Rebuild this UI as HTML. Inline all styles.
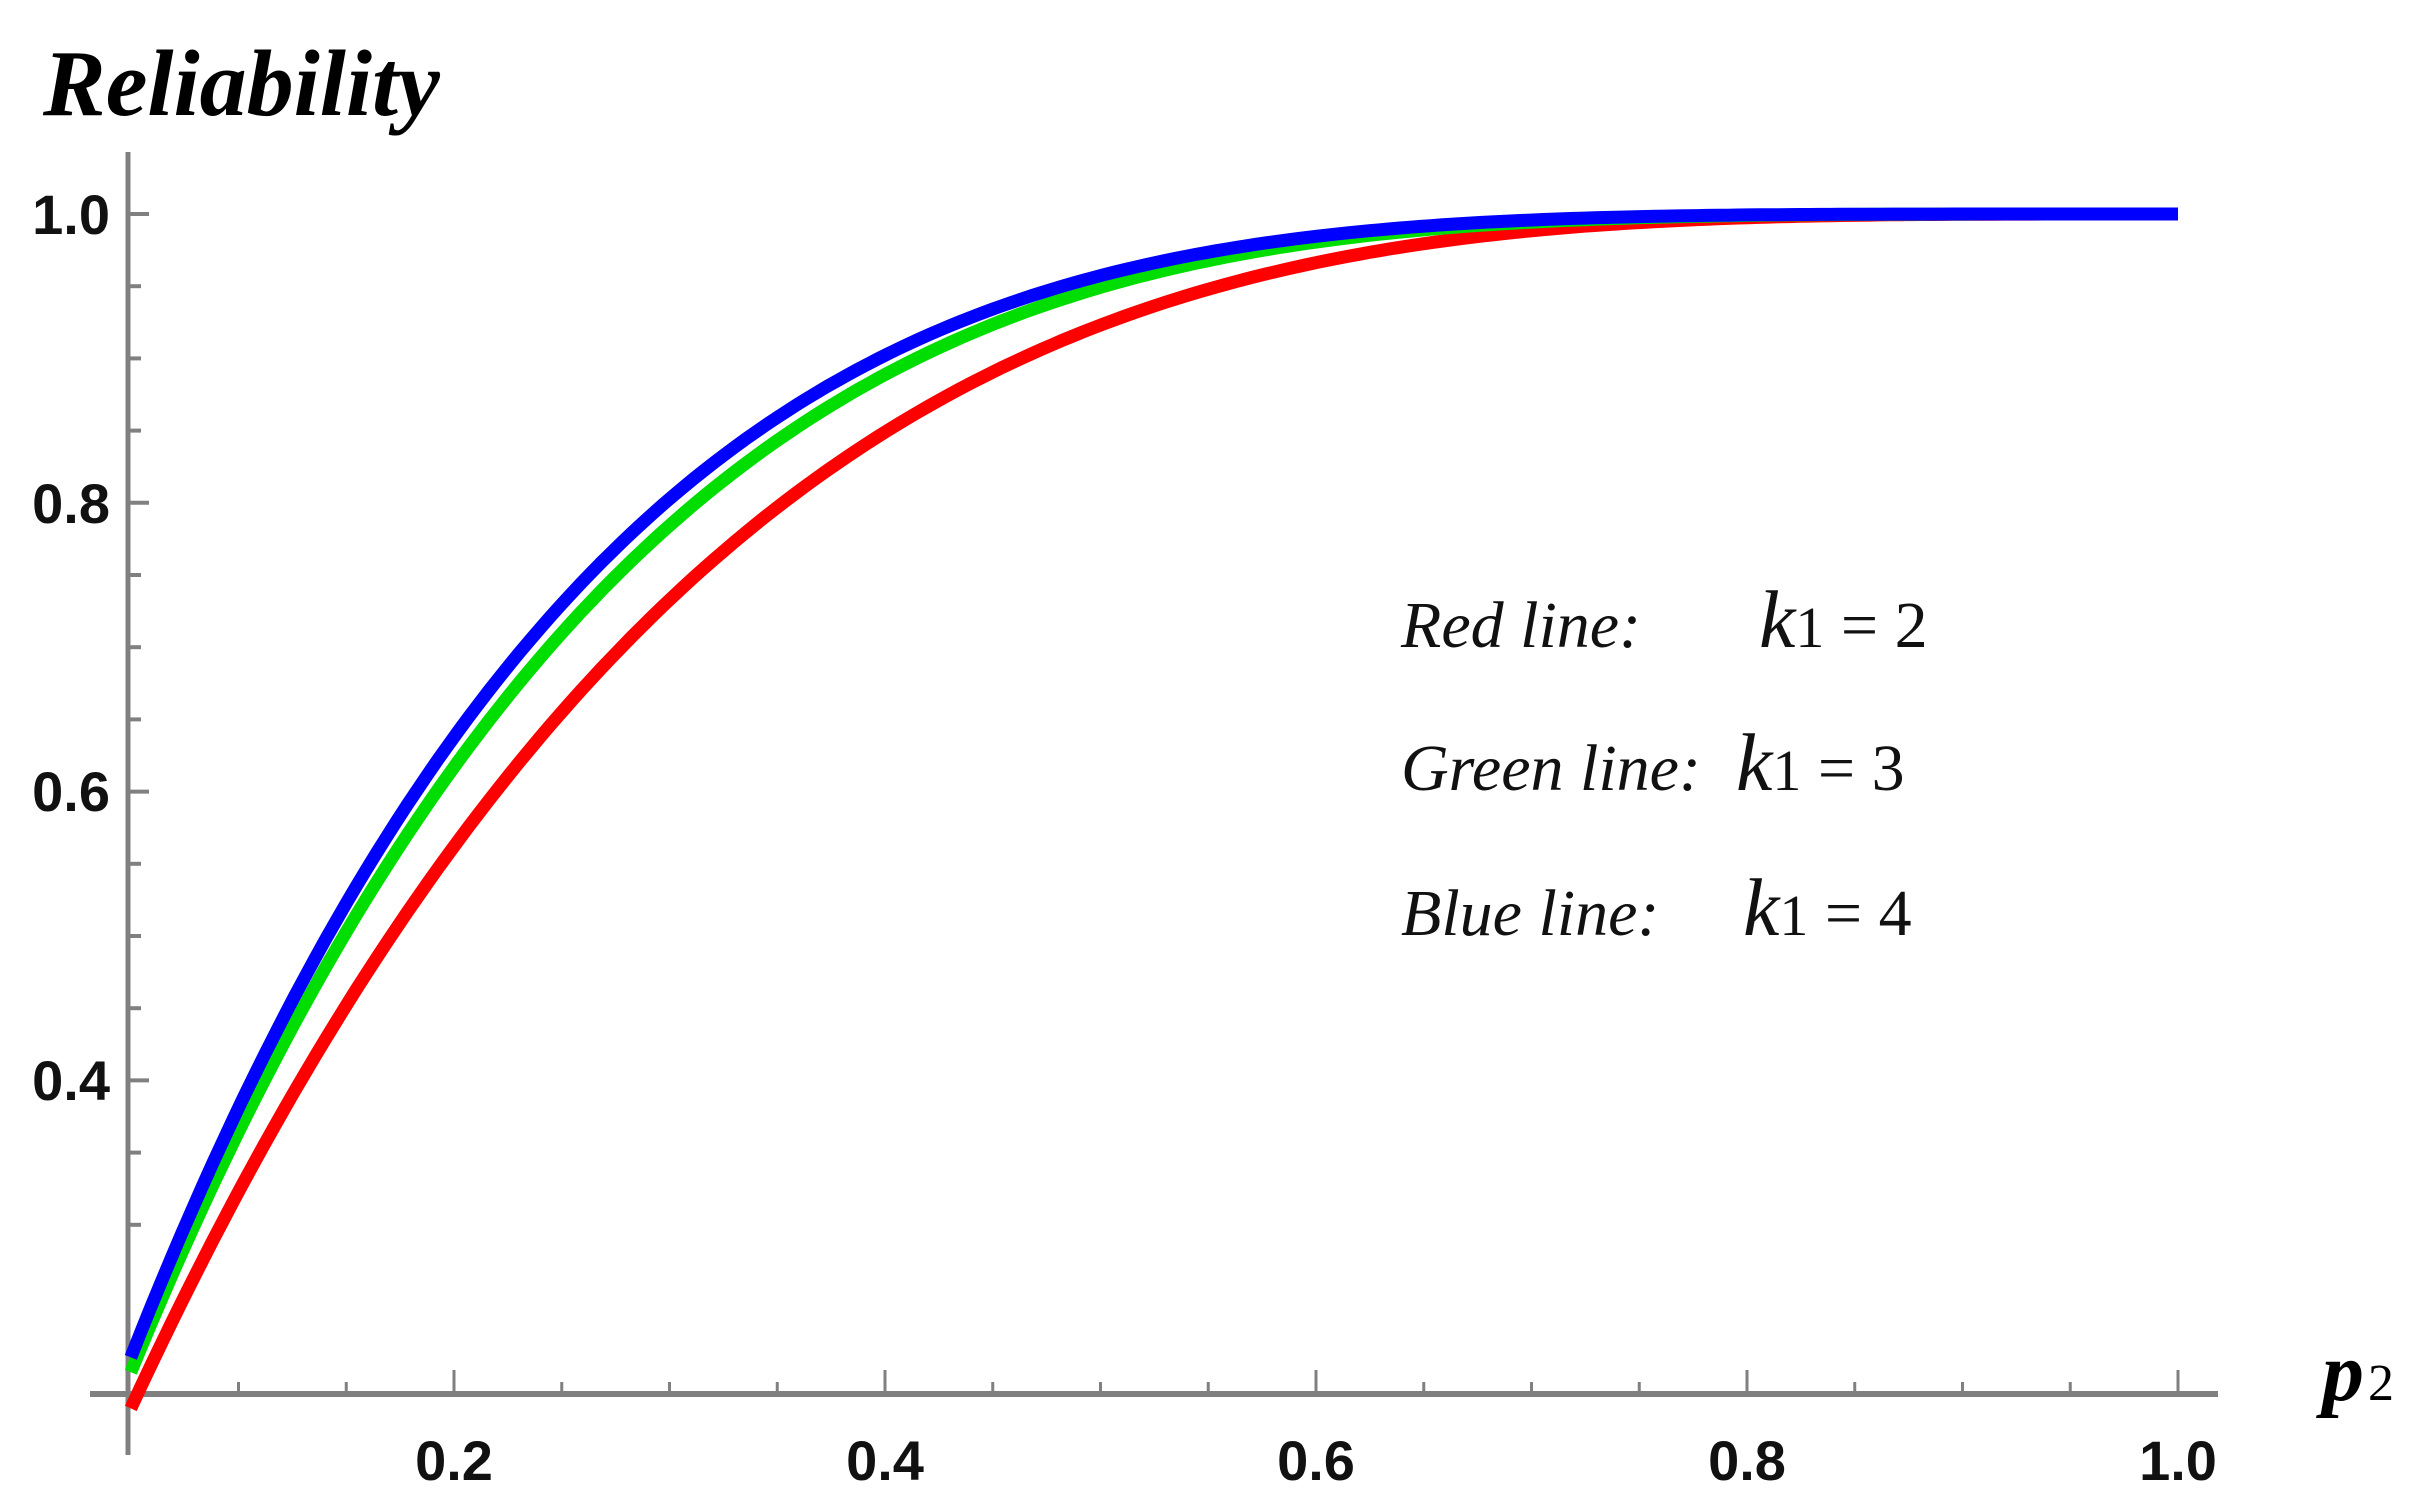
<!DOCTYPE html>
<html><head><meta charset="utf-8"><style>
html,body{margin:0;padding:0;background:#fff;}
svg{display:block;}
</style></head><body>
<svg id="s" width="2435" height="1510" viewBox="0 0 2435 1510" xmlns="http://www.w3.org/2000/svg">
<rect width="2435" height="1510" fill="#fff"/>
<text x="43" y="115" font-family="Liberation Serif, serif" font-style="italic" font-weight="bold" font-size="94">Reliability</text>
<g id="axes" stroke="#808080" fill="none"></g>
<g font-family="Liberation Sans, sans-serif" font-weight="bold" font-size="56" fill="#111">
<text x="110" y="234" text-anchor="end">1.0</text>
<text x="110" y="523" text-anchor="end">0.8</text>
<text x="110" y="811" text-anchor="end">0.6</text>
<text x="110" y="1100" text-anchor="end">0.4</text>
<text x="454" y="1480" text-anchor="middle">0.2</text>
<text x="885" y="1480" text-anchor="middle">0.4</text>
<text x="1316" y="1480" text-anchor="middle">0.6</text>
<text x="1747" y="1480" text-anchor="middle">0.8</text>
<text x="2178" y="1480" text-anchor="middle">1.0</text>
</g>
<text x="2322" y="1400" font-family="Liberation Serif, serif" font-style="italic" font-weight="bold" font-size="84">p</text>
<text x="2368" y="1400" font-family="Liberation Serif, serif" font-size="52">2</text>
<g id="curves" fill="none" stroke-width="13" stroke-linecap="butt" stroke-linejoin="round"></g>
<g font-family="Liberation Serif, serif" font-size="66" fill="#111">
<text x="1401" y="647" font-style="italic">Red line:</text>
<text x="1759" y="647"><tspan font-style="italic" font-size="82">k</tspan><tspan font-size="58">1</tspan> = 2</text>
<text x="1401" y="790" font-style="italic">Green line:</text>
<text x="1736" y="790"><tspan font-style="italic" font-size="82">k</tspan><tspan font-size="58">1</tspan> = 3</text>
<text x="1401" y="935" font-style="italic">Blue line:</text>
<text x="1743" y="935"><tspan font-style="italic" font-size="82">k</tspan><tspan font-size="58">1</tspan> = 4</text>
</g>
</svg>
<script>
(function(){
var NS="http://www.w3.org/2000/svg";
function X(p){return 23+2155*p;}
function Y(v){return 1658-1444*v;}
var ax=document.getElementById('axes');
function line(x1,y1,x2,y2,w){var l=document.createElementNS(NS,'line');l.setAttribute('x1',x1);l.setAttribute('y1',y1);l.setAttribute('x2',x2);l.setAttribute('y2',y2);l.setAttribute('stroke-width',w);ax.appendChild(l);}
line(128,152,128,1455,5);
line(90,1394,2218,1394,6);
for(var i=0;i<=14;i++){var v=0.3+i*0.05;var y=Y(v);if(y>1390)continue;var maj=Math.abs((v*10)%2)<0.01||Math.abs((v*10)%2-2)<0.01;line(128,y,maj?149:141,y,4);}
for(var i=2;i<=20;i++){var p=i*0.05;var maj=(i%4==0);line(X(p),1394,X(p),maj?1370:1382,3);}
var cg=document.getElementById('curves');
[[3.7,'#ff0000'],[4.3,'#00dd00'],[4.55,'#0000ff']].forEach(function(c){
 var d='';for(var k=0;k<=200;k++){var p=0.05+(1-0.05)*k/200;var v=1-Math.pow(1-p,c[0]);d+=(k?'L':'M')+X(p).toFixed(1)+' '+Y(v).toFixed(1);}
 var pa=document.createElementNS(NS,'path');pa.setAttribute('d',d);pa.setAttribute('stroke',c[1]);cg.appendChild(pa);
});
})();
</script>
</body></html>
